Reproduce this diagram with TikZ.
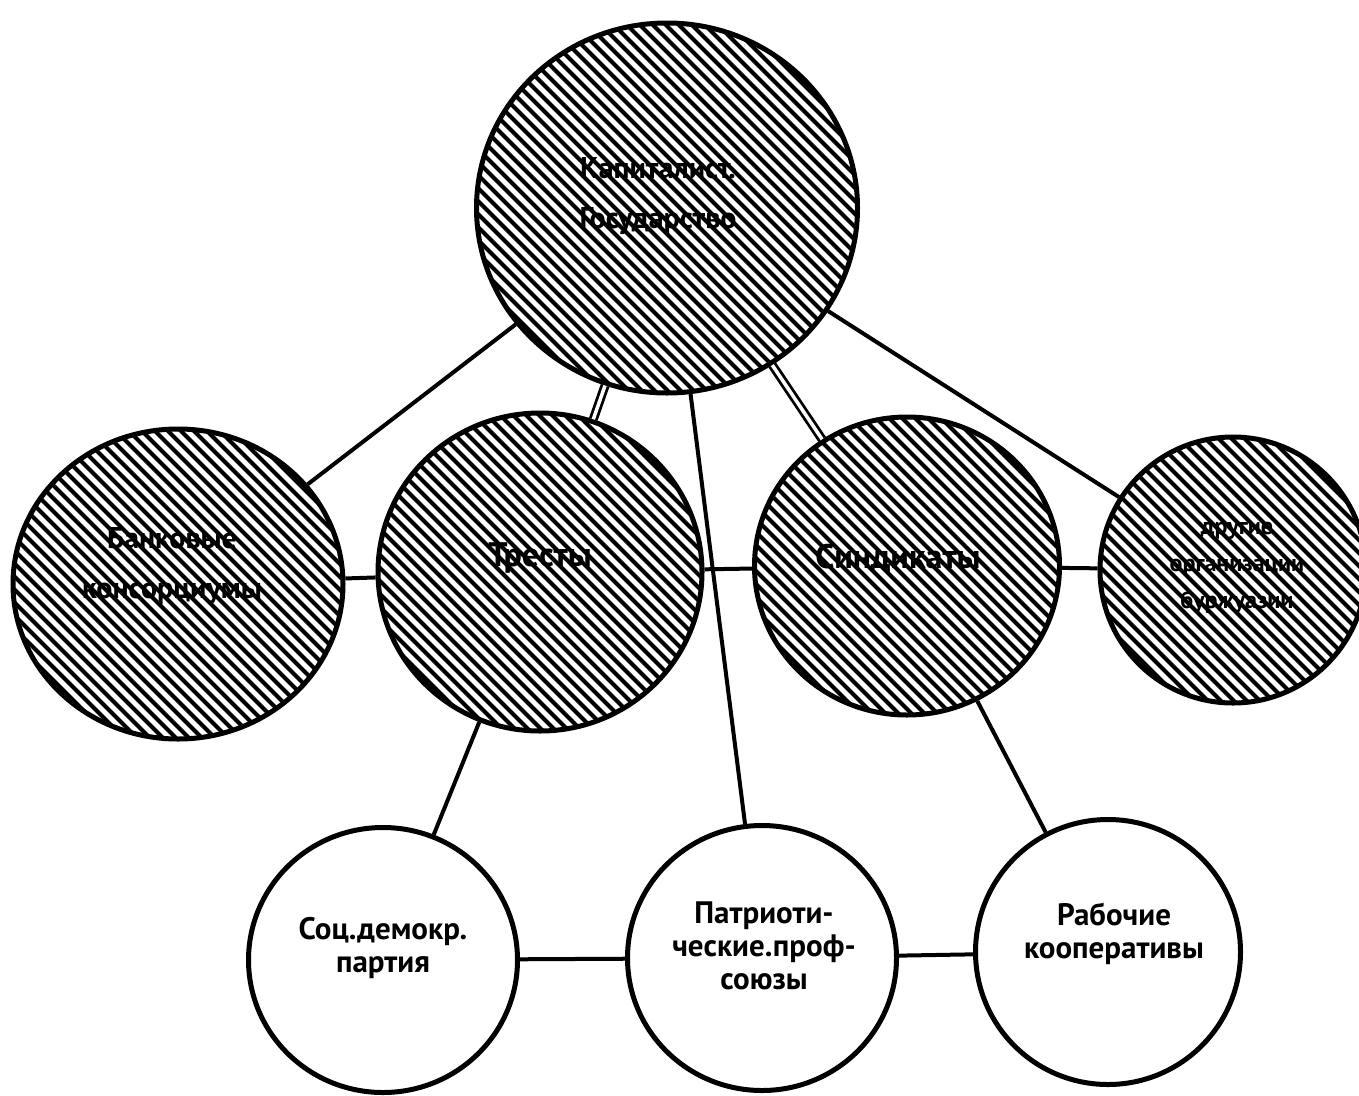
\documentclass[tikz,border=0pt]{standalone}
\usepackage{fontspec}
\setmainfont{PT Sans}
\usetikzlibrary{shapes.geometric}
\begin{document}
\begin{tikzpicture}[x=1pt,y=-1pt,
  blob/.style={ellipse, draw, line width=5pt, inner sep=0pt, fill=white},
  hatch/.style={path picture={\foreach \c in {-40,...,40}{\draw[line width=4.2pt] ([shift={(\c*13pt-320pt,320pt)}]path picture bounding box.center) -- ++(640pt,-640pt);}}},
  link/.style={line width=4pt},
  dlink/.style={double, double distance=3.5pt, line width=2.8pt},
  lbl/.style={align=center, text=black},
  big/.style={font=\bfseries\fontsize{30}{50}\selectfont},
  one/.style={font=\bfseries\fontsize{34}{40}\selectfont},
  mid/.style={font=\bfseries\fontsize{24}{37}\selectfont},
  low/.style={font=\bfseries\fontsize{31}{33}\selectfont}
]
\useasboundingbox (0,0) rectangle (1359,1095);
% circles
\node[blob,hatch,minimum width=381pt,minimum height=370pt] (top) at (667,208) {};
\node[blob,hatch,minimum width=330pt,minimum height=310pt] (bank) at (178,584) {};
\node[blob,hatch,minimum width=324pt,minimum height=318pt] (trust) at (540,572) {};
\node[blob,hatch,minimum width=305pt,minimum height=298pt] (synd) at (907,566) {};
\node[blob,hatch,minimum width=266pt,minimum height=266pt] (other) at (1233,570) {};
\node[blob,minimum width=269pt,minimum height=265pt] (soc) at (383,960) {};
\node[blob,minimum width=269pt,minimum height=265pt] (patr) at (762,958) {};
\node[blob,minimum width=265pt,minimum height=265pt] (rab) at (1108,952) {};
% connectors
\draw[link] (top) -- (bank);
\draw[dlink] (top) -- (trust);
\draw[link] (top) -- (patr);
\draw[dlink] (top) -- (synd);
\draw[link] (top) -- (other);
\draw[link] (bank) -- (trust);
\draw[link] (trust) -- (synd);
\draw[link] (synd) -- (other);
\draw[link] (trust) -- (soc);
\draw[link] (synd) -- (rab);
\draw[link] (soc) -- (patr);
\draw[link] (patr) -- (rab);
% labels
\node[lbl,big] (ttop) at (658,196) {Капиталист.\\Государство};
\node[lbl,big] (tbank) at (172,566) {Банковые\\консорциумы};
\node[lbl,one] (ttrust) at (540,558) {Тресты};
\node[lbl,one] (tsynd) at (898,558) {Синдикаты};
\node[lbl,mid] (tother) at (1237,568) {другие\\организации\\буржуазии};
\node[lbl,low] (tsoc) at (383,948) {Соц.демокр.\\партия};
\node[lbl,low] (tpatr) at (764,946) {Патриоти-\\ческие.проф-\\союзы};
\node[lbl,low] (trab) at (1114,934) {Рабочие\\кооперативы};
\end{tikzpicture}
\end{document}
